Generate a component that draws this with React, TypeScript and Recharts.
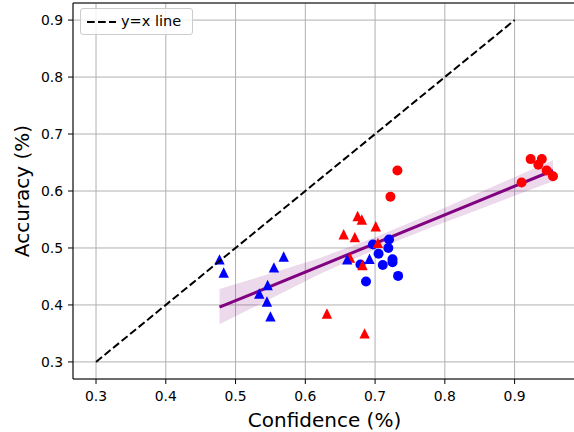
import React from 'react';
import {
  ComposedChart,
  XAxis,
  YAxis,
  CartesianGrid,
  Scatter,
  Line,
  Area,
  ReferenceLine,
  Label,
} from 'recharts';

const xTicks = [0.3, 0.4, 0.5, 0.6, 0.7, 0.8, 0.9];
const yTicks = [0.3, 0.4, 0.5, 0.6, 0.7, 0.8, 0.9];

const blueCircles = [
  { x: 0.697, y: 0.506 },
  { x: 0.72, y: 0.515 },
  { x: 0.719, y: 0.5 },
  { x: 0.705, y: 0.49 },
  { x: 0.725, y: 0.48 },
  { x: 0.725, y: 0.475 },
  { x: 0.711, y: 0.47 },
  { x: 0.679, y: 0.471 },
  { x: 0.687, y: 0.441 },
  { x: 0.733, y: 0.451 },
];

const redCircles = [
  { x: 0.732, y: 0.636 },
  { x: 0.722, y: 0.59 },
  { x: 0.923, y: 0.656 },
  { x: 0.939, y: 0.656 },
  { x: 0.934, y: 0.646 },
  { x: 0.946, y: 0.636 },
  { x: 0.955, y: 0.626 },
  { x: 0.91, y: 0.615 },
];

const redTriangles = [
  { x: 0.631, y: 0.385 },
  { x: 0.685, y: 0.35 },
  { x: 0.675, y: 0.556 },
  { x: 0.681, y: 0.55 },
  { x: 0.701, y: 0.538 },
  { x: 0.655, y: 0.524 },
  { x: 0.671, y: 0.519 },
  { x: 0.704, y: 0.509 },
  { x: 0.664, y: 0.483 },
  { x: 0.682, y: 0.47 },
];

const blueTriangles = [
  { x: 0.477, y: 0.48 },
  { x: 0.483, y: 0.457 },
  { x: 0.569, y: 0.485 },
  { x: 0.555, y: 0.466 },
  { x: 0.546, y: 0.435 },
  { x: 0.534, y: 0.42 },
  { x: 0.545, y: 0.406 },
  { x: 0.55, y: 0.38 },
  { x: 0.66, y: 0.48 },
  { x: 0.692, y: 0.481 },
];

const fitLine = [
  { x: 0.477, fit: 0.396 },
  { x: 0.955, fit: 0.636 },
];

const ciBand = [
  { x: 0.477, band: [0.366, 0.428] },
  { x: 0.55, band: [0.411, 0.455] },
  { x: 0.62, band: [0.454, 0.482] },
  { x: 0.7, band: [0.497, 0.519] },
  { x: 0.78, band: [0.536, 0.56] },
  { x: 0.86, band: [0.573, 0.603] },
  { x: 0.955, band: [0.617, 0.654] },
];

const identityLine = [
  { x: 0.3, y: 0.3 },
  { x: 0.9, y: 0.9 },
];

const FONT = '"DejaVu Sans", sans-serif';
const RED = '#ff0000';
const BLUE = '#0000ff';
const PURPLE = '#800080';

const circleShape = (color: string) => (props: any) => (
  <circle cx={props.cx} cy={props.cy} r={5} fill={color} />
);

const triangleShape = (color: string) => (props: any) => {
  const { cx, cy } = props;
  const h = 5.2;
  return (
    <polygon
      points={`${cx},${cy - h} ${cx - h},${cy + h} ${cx + h},${cy + h}`}
      fill={color}
    />
  );
};

const tickStyle = { fontSize: 13.9, fontFamily: FONT, fill: '#000' };

export default function App() {
  return (
    <div
      style={{
        position: 'absolute',
        left: 0,
        top: 0,
        width: 574,
        height: 432,
        overflow: 'hidden',
        background: '#fff',
      }}
    >
      <ComposedChart
        width={580}
        height={432}
        data={ciBand}
        margin={{ top: 3, right: 4, bottom: 0, left: 0 }}
      >
        <CartesianGrid stroke="#b0b0b0" strokeWidth={1} />
        <XAxis
          type="number"
          dataKey="x"
          domain={[0.267, 0.988]}
          allowDataOverflow
          ticks={xTicks}
          tickFormatter={(v: number) => v.toFixed(1)}
          height={53}
          stroke="#000"
          tickSize={5}
          tickMargin={7}
          tick={tickStyle}
          tickLine={{ stroke: '#000' }}
          label={
            <Label
              content={(p: any) => {
                const vb = p.viewBox || { x: 73, width: 503, y: 379 };
                return (
                  <text
                    x={vb.x + vb.width / 2}
                    y={427}
                    textAnchor="middle"
                    fontSize={20}
                    fontFamily={FONT}
                    fill="#000"
                  >
                    Confidence (%)
                  </text>
                );
              }}
            />
          }
        />
        <YAxis
          type="number"
          domain={[0.27, 0.93]}
          allowDataOverflow
          ticks={yTicks}
          tickFormatter={(v: number) => v.toFixed(1)}
          width={73}
          stroke="#000"
          tickSize={5}
          tickMargin={5}
          tick={tickStyle}
          tickLine={{ stroke: '#000' }}
          label={
            <Label
              content={(p: any) => {
                const vb = p.viewBox || { y: 3, height: 376 };
                const cy = vb.y + vb.height / 2;
                return (
                  <text
                    x={22}
                    y={cy}
                    transform={`rotate(-90, 22, ${cy})`}
                    textAnchor="middle"
                    dominantBaseline="central"
                    fontSize={20}
                    fontFamily={FONT}
                    fill="#000"
                  >
                    Accuracy (%)
                  </text>
                );
              }}
            />
          }
        />
        <ReferenceLine y={0.93} stroke="#000" strokeWidth={1} ifOverflow="visible" />
        <Area
          dataKey="band"
          stroke="none"
          fill={PURPLE}
          fillOpacity={0.15}
          isAnimationActive={false}
          activeDot={false}
          dot={false}
        />
        <Line
          data={fitLine}
          dataKey="fit"
          stroke={PURPLE}
          strokeWidth={3}
          dot={false}
          activeDot={false}
          isAnimationActive={false}
        />
        <Scatter data={blueCircles} dataKey="y" shape={circleShape(BLUE)} isAnimationActive={false} />
        <Scatter data={redCircles} dataKey="y" shape={circleShape(RED)} isAnimationActive={false} />
        <Scatter data={redTriangles} dataKey="y" shape={triangleShape(RED)} isAnimationActive={false} />
        <Scatter data={blueTriangles} dataKey="y" shape={triangleShape(BLUE)} isAnimationActive={false} />
        <Line
          data={identityLine}
          dataKey="y"
          stroke="#000"
          strokeWidth={2}
          strokeDasharray="7.7 3.3"
          dot={false}
          activeDot={false}
          isAnimationActive={false}
          zIndex={700}
        />
      </ComposedChart>
      <div
        style={{
          position: 'absolute',
          left: 80,
          top: 8,
          width: 111,
          height: 25,
          background: 'rgba(255,255,255,0.8)',
          border: '1px solid #cccccc',
          borderRadius: 3,
          display: 'flex',
          alignItems: 'center',
          fontFamily: FONT,
          fontSize: 14.5,
          color: '#000',
        }}
      >
        <svg width={40} height={25} style={{ display: 'block' }}>
          <line x1={6} y1={13} x2={35} y2={13} stroke="#000" strokeWidth={2} strokeDasharray="7.7 3.3" />
        </svg>
        <span style={{ whiteSpace: 'nowrap', lineHeight: '25px' }}>y=x line</span>
      </div>
    </div>
  );
}
